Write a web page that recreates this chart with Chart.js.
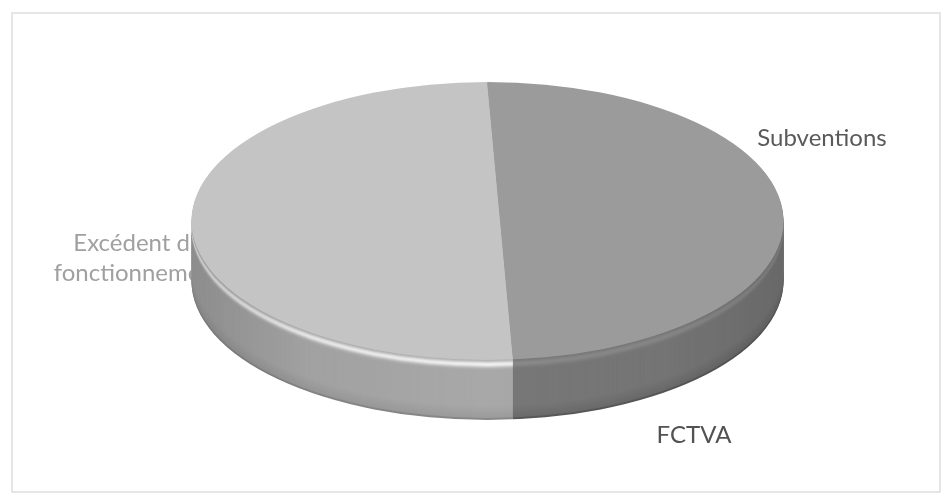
<!DOCTYPE html>
<html>
<head>
<meta charset="utf-8">
<script src="https://cdn.jsdelivr.net/npm/chart.js@4/dist/chart.umd.min.js"></script>
<style>
  html, body { margin: 0; padding: 0; background: #ffffff; }
  canvas { display: block; }
</style>
</head>
<body>
<canvas id="c" width="944" height="499"></canvas>
<script>
// Répartition des recettes d'investissement (en %)
const categories = ['Subventions', 'FCTVA', 'Excédent de fonctionnement'];
const shares = [50, 0, 50];
const labelLines = [['Subventions'], ['FCTVA'], ['Excédent de', 'fonctionnement']];

// Greys for the top faces, the side walls and the label text
const topColours = ['#9b9b9b', '#8a8a8a', '#c4c4c4'];
const sideBase = [120, 110, 168];
const sideGlow = [18, 18, 72];
const labelColours = ['#5a5a5a', '#525252', '#a0a0a0'];

// Disc outline on screen (centre, half-axes, wall height). The wedges meet at
// the pie's own centre, set a little right of the outline centre to mimic the
// perspective of the view.
const DISC = { cx: 487.5, cy: 221, rx: 296, ry: 139, depth: 60 };
const FIRST_ANGLE = -2.5;

// Where each label sits (centre of the text block)
const LABEL_POS = [
  { x: 822, y: 138 },
  { x: 694, y: 435 },
  { x: 138, y: 258 }
];
const LABEL_FONT = '24px Lato, "Open Sans", sans-serif';
const LABEL_LINE = 30;

function grey(v) {
  v = Math.max(0, Math.min(255, Math.round(v)));
  return `rgb(${v},${v},${v})`;
}

// Wall shade at a given depth below the rim: bright bevel just under the rim,
// slightly darker towards the bottom edge.
function wallShade(i, d, depth) {
  const glow = sideGlow[i] * Math.exp(-Math.pow((d - 5) / 3, 2));
  const t = Math.max(0, (d - (depth - 14)) / 14);
  const dark = 14 * t + (d >= depth - 1 ? 18 : 0);
  return grey(sideBase[i] + glow - dark);
}

function outline(ctx, dy) {
  ctx.beginPath();
  ctx.ellipse(DISC.cx, DISC.cy + dy, DISC.rx, DISC.ry, 0, 0, Math.PI * 2);
}

const frame = {
  id: 'frame',
  beforeDraw(chart) {
    const ctx = chart.ctx;
    ctx.save();
    ctx.fillStyle = '#ffffff';
    ctx.fillRect(0, 0, chart.width, chart.height);
    ctx.strokeStyle = '#dedede';
    ctx.lineWidth = 1.5;
    ctx.strokeRect(12, 13, 928, 479);
    ctx.restore();
  }
};

const tiltedPie = {
  id: 'tiltedPie',
  beforeDatasetsDraw(chart) {
    const ctx = chart.ctx;
    const arcs = chart.getDatasetMeta(0).data;
    const ax = arcs[0].x, ay = arcs[0].y, r = arcs[0].outerRadius;
    const { cx, cy, rx, ry, depth } = DISC;
    const reach = 1.25; // wedges overshoot the outline, which clips them

    // labels go underneath the disc
    ctx.save();
    ctx.font = LABEL_FONT;
    ctx.textAlign = 'center';
    ctx.textBaseline = 'middle';
    labelLines.forEach((lines, i) => {
      ctx.fillStyle = labelColours[i];
      const p = LABEL_POS[i];
      const y0 = p.y - (lines.length - 1) * LABEL_LINE / 2;
      lines.forEach((s, k) => ctx.fillText(s, p.x, y0 + k * LABEL_LINE));
    });
    ctx.restore();

    // side walls: stacked copies of every wedge, deepest first
    for (let d = depth; d >= 1; d--) {
      ctx.save();
      outline(ctx, d);
      ctx.clip();
      arcs.forEach((arc, i) => {
        const a = arc.startAngle, b = arc.endAngle;
        if (b - a <= 0) return;
        ctx.beginPath();
        ctx.moveTo(ax, ay + d);
        ctx.ellipse(ax, ay + d, rx * reach, ry * reach, 0, a, b);
        ctx.closePath();
        ctx.fillStyle = wallShade(i, d, depth);
        ctx.fill();
      });
      ctx.restore();
    }

    // darker towards the left and right ends of the wall
    ctx.save();
    ctx.beginPath();
    ctx.ellipse(cx, cy, rx, ry, 0, 0, Math.PI);
    ctx.lineTo(cx - rx, cy + depth);
    ctx.ellipse(cx, cy + depth, rx, ry, 0, Math.PI, 0, true);
    ctx.closePath();
    const g = ctx.createLinearGradient(cx - rx, 0, cx + rx, 0);
    g.addColorStop(0, 'rgba(0,0,0,0.16)');
    g.addColorStop(0.2, 'rgba(0,0,0,0.04)');
    g.addColorStop(0.5, 'rgba(0,0,0,0)');
    g.addColorStop(0.8, 'rgba(0,0,0,0.03)');
    g.addColorStop(1, 'rgba(0,0,0,0.12)');
    ctx.fillStyle = g;
    ctx.fill();
    ctx.restore();

    // top faces: the library's own arcs, squashed into the tilted outline
    ctx.save();
    outline(ctx, 0);
    ctx.clip();
    ctx.translate(ax, ay);
    ctx.scale(reach * rx / r, reach * ry / r);
    ctx.translate(-ax, -ay);
  },
  afterDatasetsDraw(chart) {
    chart.ctx.restore();
  }
};

new Chart(document.getElementById('c'), {
  type: 'pie',
  data: {
    labels: categories,
    datasets: [{
      data: shares,
      backgroundColor: topColours,
      borderWidth: 0
    }]
  },
  options: {
    responsive: false,
    animation: false,
    devicePixelRatio: 1,
    rotation: FIRST_ANGLE,
    layout: { padding: { left: 360, right: 304, top: 81, bottom: 138 } },
    plugins: {
      legend: { display: false },
      tooltip: { enabled: false }
    }
  },
  plugins: [frame, tiltedPie]
});
</script>
</body>
</html>
